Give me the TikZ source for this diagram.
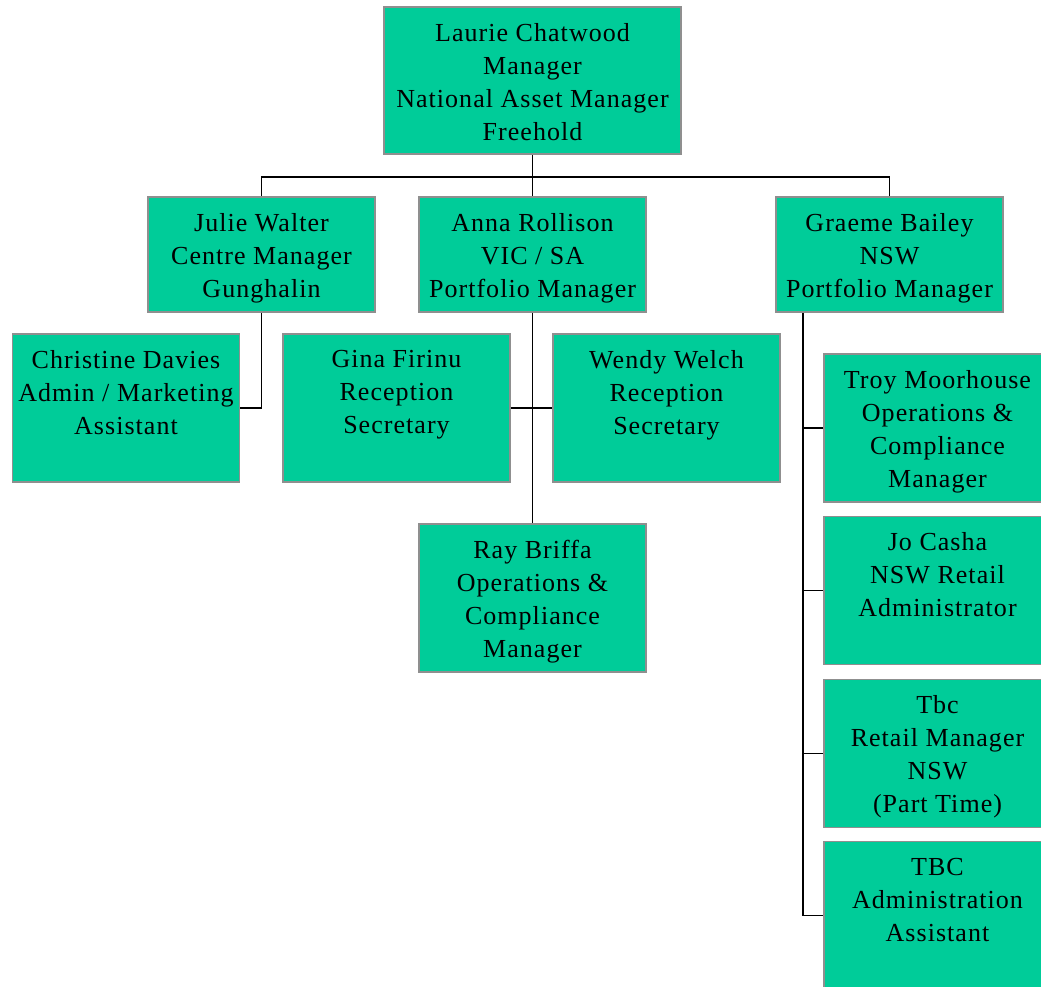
\documentclass[tikz,border=0pt]{standalone}
\usepackage{fontspec}
\setmainfont[LetterSpace=4]{Liberation Serif}
\usepackage{xcolor}
\usetikzlibrary{positioning,calc}
\definecolor{boxfill}{HTML}{00CC99}
\definecolor{boxline}{HTML}{8F8F8F}
\tikzset{
    unit/.style={draw=boxline, line width=1.8pt, fill=boxfill, minimum width=227pt, minimum height=148pt, inner sep=0pt},
    title/.style={anchor=north, align=center, inner sep=0pt, font=\fontsize{26}{33}\selectfont},
    link/.style={draw=black, line width=1.9pt}
}

\begin{document}
\begin{tikzpicture}[x=1pt, y=-1pt]
    \clip (0,0) rectangle (1041,987);
    \fill[white] (0,0) rectangle (1041,987);

    % top
    \node[unit, minimum width=297pt, minimum height=147pt] (laurie) at (532.5,80.5) {};
    % second row
    \node[unit, minimum height=115pt] (julie) at (261.5,254.5) {};
    \node[unit, minimum height=115pt] (anna) at (532.5,254.5) {};
    \node[unit, minimum height=115pt] (graeme) at (889.5,254.5) {};
    % third row
    \node[unit] (chris) at (126,408) {};
    \node[unit] (gina) at (396.5,408) {};
    \node[unit] (wendy) at (666.5,408) {};
    \node[unit] (ray) at (532.5,598) {};
    % NSW column
    \node[unit] (troy) at (937.5,428) {};
    \node[unit] (jo) at (937.5,590.5) {};
    \node[unit] (tbc) at (937.5,753.5) {};
    \node[unit] (admin) at (937.5,915.5) {};

    \node[title] (laurie-t) at ([yshift=-17pt]laurie.north) {Laurie Chatwood\\Manager\\National Asset Manager\\Freehold};
    \node[title] (julie-t) at ([yshift=-17pt]julie.north) {Julie Walter\\Centre Manager\\Gunghalin};
    \node[title] (anna-t) at ([yshift=-17pt]anna.north) {Anna Rollison\\VIC / SA\\Portfolio Manager};
    \node[title] (graeme-t) at ([yshift=-17pt]graeme.north) {Graeme Bailey\\NSW\\Portfolio Manager};
    \node[title] (chris-t) at ([yshift=-17pt]chris.north) {Christine Davies\\Admin / Marketing\\Assistant};
    \node[title] (gina-t) at ([yshift=-17pt]gina.north) {Gina Firinu\\Reception\\Secretary};
    \node[title] (wendy-t) at ([yshift=-17pt]wendy.north) {Wendy Welch\\Reception\\Secretary};
    \node[title] (ray-t) at ([yshift=-17pt]ray.north) {Ray Briffa\\Operations \&\\Compliance\\Manager};
    \node[title] (troy-t) at ([yshift=-17pt]troy.north) {Troy Moorhouse\\Operations \&\\Compliance\\Manager};
    \node[title] (jo-t) at ([yshift=-17pt]jo.north) {Jo Casha\\NSW Retail\\Administrator};
    \node[title] (tbc-t) at ([yshift=-17pt]tbc.north) {Tbc\\Retail Manager\\NSW\\(Part Time)};
    \node[title] (admin-t) at ([yshift=-17pt]admin.north) {TBC\\Administration\\Assistant};

    % connectors
    \draw[link] (laurie.south) -- ++(0,22) coordinate (bus);
    \draw[link] (bus) -| (julie.north);
    \draw[link] (bus) -| (graeme.north);
    \draw[link] (bus) -- (anna.north);
    \draw[link] (julie.south) |- (chris.east);
    \draw[link] (anna.south) -- (ray.north);
    \draw[link] (gina.east) -- (wendy.west);
    \coordinate (spine) at ([xshift=28pt]graeme.south west);
    \draw[link] (spine) |- (admin.west);
    \foreach \n in {troy,jo,tbc}
        \draw[link] (\n.west) -- (\n.west -| spine);
\end{tikzpicture}
\end{document}
